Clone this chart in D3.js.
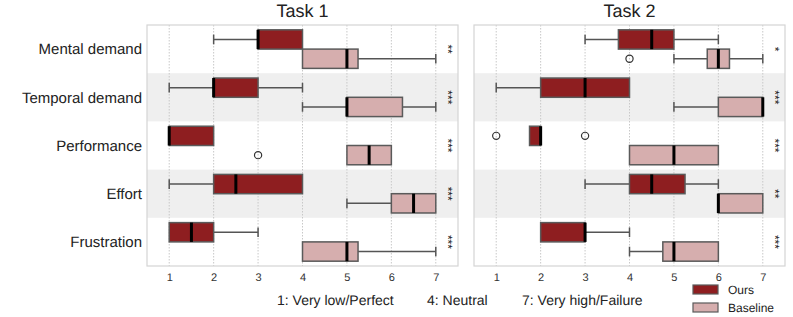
<!DOCTYPE html>
<html><head><meta charset="utf-8">
<script src="https://cdn.jsdelivr.net/npm/d3@7"></script>
<style>body{margin:0;background:#fff}svg{display:block;font-family:"Liberation Sans",Arial,sans-serif}text{text-rendering:geometricPrecision}</style>
</head><body><svg id="c" width="793" height="317"></svg>
<script>
const categories = ["Mental demand","Temporal demand","Performance","Effort","Frustration"];
const tasks = ["Task 1","Task 2"];
const series = ["Ours","Baseline"];
const xTicks = [1,2,3,4,5,6,7];
// [whiskerLow, q1, median, q3, whiskerHigh]
const task1Ours = [[2,3,3,4,4],[1,2,2,3,4],[1,1,1,2,2],[1,2,2.5,4,4],[1,1,1.5,2,3]];
const task1Base = [[4,4,5,5.25,7],[4,5,5,6.25,7],[5,5,5.5,6,6],[5,6,6.5,7,7],[4,4,5,5.25,7]];
const task2Ours = [[3,3.75,4.5,5,6],[1,2,3,4,4],[1.75,1.75,2,2,2],[3,4,4.5,5.25,6],[2,2,3,3,4]];
const task2Base = [[5,5.75,6,6.25,7],[5,6,7,7,7],[4,4,5,6,6],[6,6,6,7,7],[4,4.75,5,6,6]];
// outliers: [categoryIndex, seriesIndex, value]
const task1Outliers = [[2,1,3]];
const task2Outliers = [[0,1,4],[2,0,1],[2,0,3]];
const task1Stars = ["**","***","***","***","***"];
const task2Stars = ["*","***","***","**","***"];
const scaleNotes = ["1: Very low/Perfect","4: Neutral","7: Very high/Failure"];
const colors = ["#8e1e20","#d6aeae"];

const panels = [
  {title:tasks[0], data:[task1Ours,task1Base], outliers:task1Outliers, stars:task1Stars, x0:147, x1:458},
  {title:tasks[1], data:[task2Ours,task2Base], outliers:task2Outliers, stars:task2Stars, x0:474, x1:785}
];
const plotTop = 25, plotBottom = 266;
const svg = d3.select("#c");
const y = d3.scaleBand().domain(categories).range([plotTop,plotBottom]).paddingInner(0).paddingOuter(0);
const ySub = d3.scaleBand().domain(series).range([0,y.bandwidth()]).paddingOuter(0.25);

panels.forEach((p,pi)=>{
  const x = d3.scaleLinear().domain([0.5,7.5]).range([p.x0,p.x1]);
  const g = svg.append("g");
  g.selectAll("rect.band").data(categories.filter((c,i)=>i%2===1)).enter().append("rect")
    .attr("x",p.x0).attr("width",p.x1-p.x0).attr("y",d=>y(d)).attr("height",y.bandwidth()).attr("fill","#efefef");
  g.selectAll("line.grid").data(xTicks).enter().append("line")
    .attr("x1",d=>x(d)).attr("x2",d=>x(d)).attr("y1",plotTop).attr("y2",plotBottom)
    .attr("stroke","#c8c8c8").attr("stroke-width",1).attr("stroke-dasharray","1.5,1.5");
  g.append("rect").attr("x",p.x0).attr("y",plotTop).attr("width",p.x1-p.x0).attr("height",plotBottom-plotTop)
    .attr("fill","none").attr("stroke","#d4d4d4").attr("stroke-width",1.2);
  const ax = d3.axisBottom(x).tickValues(xTicks).tickFormat(d3.format("d")).tickSize(0).tickPadding(7);
  const axg = g.append("g").attr("transform",`translate(0,${plotBottom})`).call(ax);
  axg.select(".domain").remove();
  axg.selectAll("text").attr("font-size",11).attr("fill","#333").attr("font-family","Liberation Sans, Arial, sans-serif");
  g.append("text").attr("x",(p.x0+p.x1)/2).attr("y",17).attr("text-anchor","middle")
    .attr("font-size",18).attr("fill","#222").text(p.title);
  const bw = ySub.bandwidth();
  p.data.forEach((arr,si)=>{
    arr.forEach((s,ci)=>{
      const cy = y(categories[ci]) + ySub(series[si]) + bw/2;
      const bg = g.append("g");
      const wc = "#555";
      if (s[0] < s[1]) {
        bg.append("line").attr("x1",x(s[0])).attr("x2",x(s[1])).attr("y1",cy).attr("y2",cy).attr("stroke",wc).attr("stroke-width",1.5);
        bg.append("line").attr("x1",x(s[0])).attr("x2",x(s[0])).attr("y1",cy-bw/4).attr("y2",cy+bw/4).attr("stroke",wc).attr("stroke-width",1.5);
      }
      if (s[4] > s[3]) {
        bg.append("line").attr("x1",x(s[3])).attr("x2",x(s[4])).attr("y1",cy).attr("y2",cy).attr("stroke",wc).attr("stroke-width",1.5);
        bg.append("line").attr("x1",x(s[4])).attr("x2",x(s[4])).attr("y1",cy-bw/4).attr("y2",cy+bw/4).attr("stroke",wc).attr("stroke-width",1.5);
      }
      bg.append("rect").attr("x",x(s[1])).attr("width",x(s[3])-x(s[1])).attr("y",cy-bw/2).attr("height",bw)
        .attr("fill",colors[si]).attr("stroke","#5a5a5a").attr("stroke-width",1.5);
      bg.append("line").attr("x1",x(s[2])).attr("x2",x(s[2])).attr("y1",cy-bw/2).attr("y2",cy+bw/2)
        .attr("stroke","#000").attr("stroke-width",3);
    });
  });
  g.selectAll("circle.out").data(p.outliers).enter().append("circle")
    .attr("cx",d=>x(d[2])).attr("cy",d=>y(categories[d[0]])+ySub(series[d[1]])+bw/2)
    .attr("r",3.6).attr("fill","none").attr("stroke","#333").attr("stroke-width",1.2);
  g.selectAll("text.star").data(p.stars).enter().append("text")
    .attr("transform",(d,i)=>`translate(${x(7.27)},${y(categories[i])+y.bandwidth()/2}) rotate(90)`)
    .attr("text-anchor","middle").attr("dominant-baseline","central")
    .attr("font-size",12).attr("fill","#222").text(d=>d);
  if (pi===0) {
    svg.selectAll("text.cat").data(categories).enter().append("text")
      .attr("x",p.x0-5).attr("y",d=>y(d)+y.bandwidth()/2).attr("dy","0.35em")
      .attr("text-anchor","end").attr("font-size",15).attr("fill","#222").text(d=>d);
  }
});
const xn = d3.scaleOrdinal().domain(scaleNotes).range([277,427,522]);
svg.selectAll("text.note").data(scaleNotes).enter().append("text")
  .attr("x",d=>xn(d)).attr("y",300).attr("dy","0.35em").attr("font-size",14).attr("fill","#222").text(d=>d);
const lg = svg.append("g").attr("transform","translate(693,285)");
series.forEach((s,i)=>{
  lg.append("rect").attr("x",0).attr("y",i*18).attr("width",25).attr("height",9)
    .attr("fill",colors[i]).attr("stroke","#5a5a5a").attr("stroke-width",1.2);
  lg.append("text").attr("x",35).attr("y",i*18+4.5).attr("dy","0.35em").attr("font-size",12).attr("fill","#222").text(s);
});
</script></body></html>
